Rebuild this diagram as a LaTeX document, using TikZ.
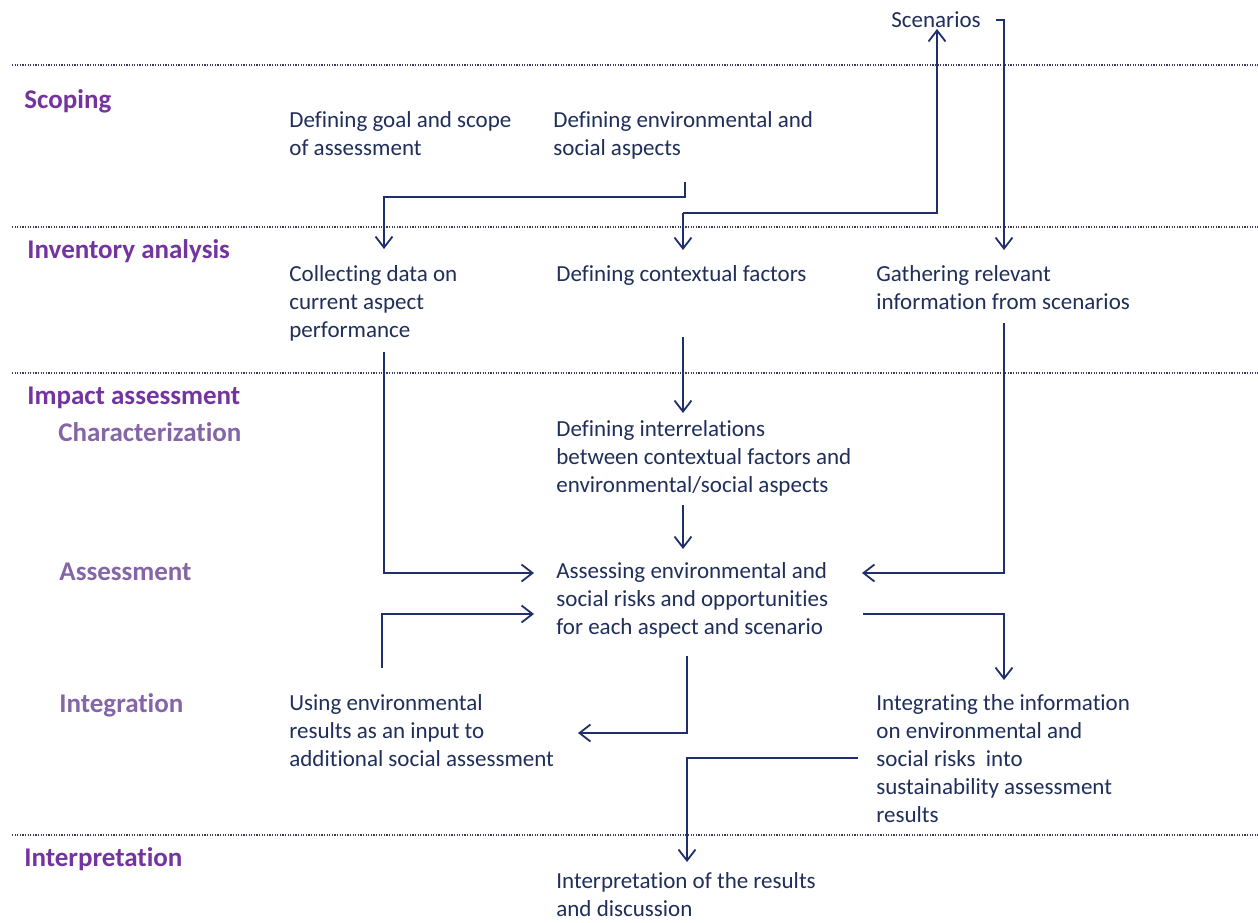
\documentclass[tikz,border=0pt]{standalone}
\usepackage{fontspec}
\setmainfont{Carlito}[Ligatures=NoCommon]
\usetikzlibrary{arrows.meta}
\definecolor{txt}{HTML}{1F2E5A}
\definecolor{ln}{HTML}{1F2F6B}
\definecolor{head}{HTML}{7334A0}
\definecolor{sub}{HTML}{8466A6}
\definecolor{dots}{HTML}{3A3A5A}
\begin{document}
\begin{tikzpicture}[x=0.5pt,y=-0.5pt,
 txtbox/.style={anchor=base west, inner sep=0pt, align=left, text=txt, font=\fontsize{11.5}{14}\selectfont},
 headlbl/.style={anchor=base west, inner sep=0pt, text=head, font=\fontsize{13.5}{16}\selectfont\bfseries},
 sublbl/.style={headlbl, text=sub},
 sepline/.style={line width=0.6pt, dash pattern=on 0.6pt off 0.7pt, draw=dots},
 conn/.style={draw=ln, line width=1pt, -{Straight Barb[length=5.5pt,width=8.5pt,line width=0.9pt]}},
]
\useasboundingbox (0,0) rectangle (1258,922);

% separators
\draw[sepline] (12,65) -- (1258,65);
\draw[sepline] (12,227) -- (1258,227);
\draw[sepline] (12,373) -- (1258,373);
\draw[sepline] (12,835) -- (1258,835);

% phase labels
\node[headlbl] (hscope) at (24,108) {Scoping};
\node[headlbl] (hinv) at (27,258) {Inventory analysis};
\node[headlbl] (himp) at (27,404) {Impact assessment};
\node[sublbl] (hchar) at (58,441) {Characterization};
\node[sublbl] (hass) at (59,580) {Assessment};
\node[sublbl] (hint) at (59,712) {Integration};
\node[headlbl] (hinterp) at (24,866) {Interpretation};

% texts (anchor = baseline of the last line)
\node[txtbox] (scen) at (891,27) {Scenarios};
\node[txtbox] (goal) at (289,155) {Defining goal and scope\\of assessment};
\node[txtbox] (envasp) at (553,155) {Defining environmental and\\social aspects};
\node[txtbox] (collect) at (289,337) {Collecting data on\\current aspect\\performance};
\node[txtbox] (context) at (556,281) {Defining contextual factors};
\node[txtbox] (gather) at (876,309) {Gathering relevant\\information from scenarios};
\node[txtbox] (interrel) at (556,492) {Defining interrelations\\between contextual factors and\\environmental/social aspects};
\node[txtbox] (assess) at (556,634) {Assessing environmental and\\social risks and opportunities\\for each aspect and scenario};
\node[txtbox] (using) at (289,766) {Using environmental\\results as an input to\\additional social assessment};
\node[txtbox] (integr) at (876,822) {Integrating the information\\on environmental and\\social risks~ into\\sustainability assessment\\results};
\node[txtbox] (interp) at (556,916) {Interpretation of the results\\and discussion};

% connector end points
\coordinate (a1s) at (685,182);
\coordinate (a1e) at (384,249);
\coordinate (a2s) at (937,29);
\coordinate (a2e) at (683,250);
\coordinate (a3s) at (996,20);
\coordinate (a3e) at (1004,250);
\coordinate (a4s) at (683,337);
\coordinate (a4e) at (683,413);
\coordinate (a5s) at (683,505);
\coordinate (a5e) at (683,549);
\coordinate (a6s) at (384,352);
\coordinate (a6e) at (534,573);
\coordinate (a7s) at (1004,323);
\coordinate (a7e) at (862,573);
\coordinate (a8s) at (382,668);
\coordinate (a8e) at (534,614);
\coordinate (a9s) at (863,614);
\coordinate (a9e) at (1004,680);
\coordinate (a10s) at (687,656);
\coordinate (a10e) at (578,733);
\coordinate (a11s) at (858,758);
\coordinate (a11e) at (687,862);

\draw[conn] (a1s) -- (685,197) -- (384,197) -- (a1e);
\draw[conn] (a2e |- 0,213) -- (a2e);
\draw[conn] (a2e |- 0,213) -- (937,213) -- (a2s);
\draw[conn] (a3s) -- (1004,20) -- (a3e);
\draw[conn] (a4s) -- (a4e);
\draw[conn] (a5s) -- (a5e);
\draw[conn] (a6s) -- (384,573) -- (a6e);
\draw[conn] (a7s) -- (1004,573) -- (a7e);
\draw[conn] (a8s) -- (382,614) -- (a8e);
\draw[conn] (a9s) -- (1004,614) -- (a9e);
\draw[conn] (a10s) -- (687,733) -- (a10e);
\draw[conn] (a11s) -- (687,758) -- (a11e);
\end{tikzpicture}
\end{document}
